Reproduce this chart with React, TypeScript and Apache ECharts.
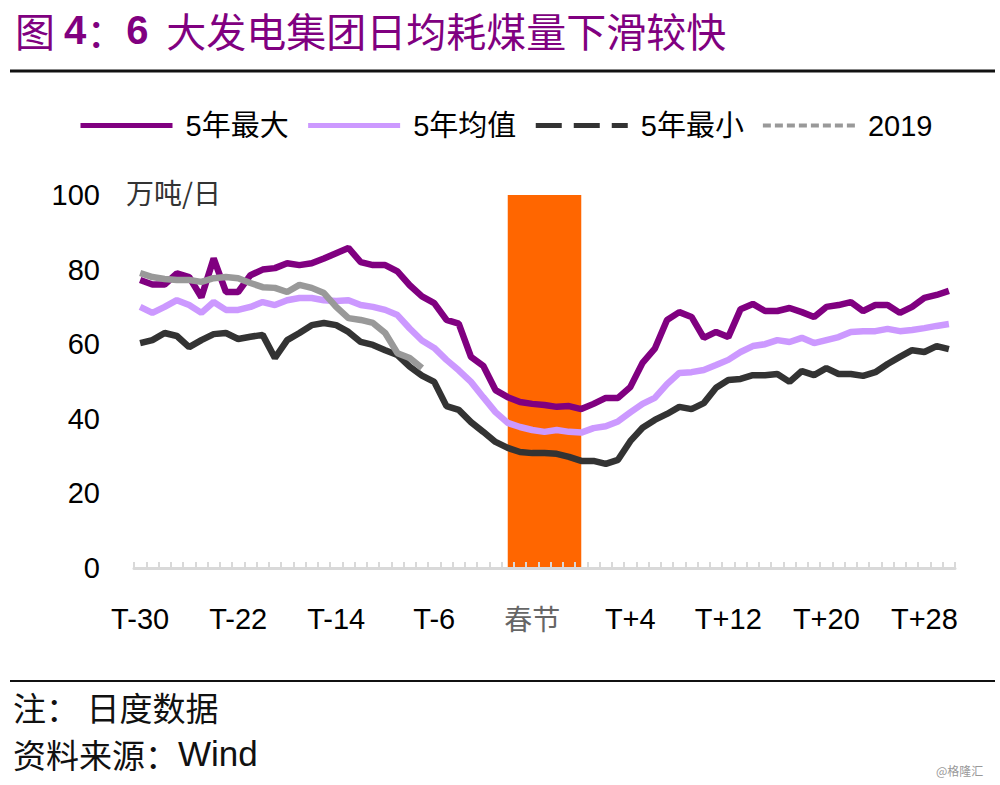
import React, { useEffect, useRef } from 'react';
import * as echarts from 'echarts';

const categories = [
  'T-30','T-29','T-28','T-27','T-26','T-25','T-24','T-23','T-22','T-21',
  'T-20','T-19','T-18','T-17','T-16','T-15','T-14','T-13','T-12','T-11',
  'T-10','T-9','T-8','T-7','T-6','T-5','T-4','T-3','T-2','T-1',
  '春节','春节','春节','春节','春节','春节','春节',
  'T+1','T+2','T+3','T+4','T+5','T+6','T+7','T+8','T+9','T+10',
  'T+11','T+12','T+13','T+14','T+15','T+16','T+17','T+18','T+19','T+20',
  'T+21','T+22','T+23','T+24','T+25','T+26','T+27','T+28','T+29','T+30',
];

const max5y = [
  77.2, 76, 76, 79, 78, 72.6, 83, 74, 74, 78.5,
  80, 80.4, 81.7, 81.2, 81.7, 83, 84.4, 85.8, 82, 81.2,
  81.2, 79.5, 75.8, 72.8, 71, 66.5, 65.5, 56.6, 54.2, 47.7,
  45.8, 44.5, 44, 43.7, 43.2, 43.4, 42.6,
  44, 45.6, 45.6, 48.5, 55, 58.8, 66.5, 68.6, 67.3, 61.7,
  63.3, 61.9, 69.4, 70.8, 68.9, 68.9, 69.7, 68.6, 67.3, 70,
  70.5, 71.3, 68.9, 70.5, 70.5, 68.4, 70, 72.4, 73.2, 74.3,
];

const mean5y = [
  70, 68.4, 70, 71.8, 70.5, 68.4, 71.3, 69.2, 69.2, 70,
  71.3, 70.5, 71.8, 72.4, 72.4, 71.8, 71.6, 71.8, 70.5, 70,
  69.2, 67.8, 64.2, 61, 59, 55.8, 53, 49.9, 45.8, 41.8,
  38.9, 37.8, 37, 36.5, 37, 36.5, 36.3,
  37.5, 38, 39.3, 41.7, 44, 45.6, 49.3, 52.3, 52.5, 53.1,
  54.4, 55.8, 57.9, 59.5, 60, 61.1, 60.6, 61.7, 60.3, 61.1,
  61.9, 63.3, 63.5, 63.5, 64.1, 63.5, 63.8, 64.3, 64.9, 65.4,
];

const min5y = [
  60.3, 61.1, 63, 62.2, 59.2, 61.1, 62.7, 63, 61.4, 62,
  62.5, 56.3, 61.1, 63, 65.1, 65.7, 65.1, 63.3, 60.6, 59.8,
  58.4, 57.1, 54, 51.6, 49.9, 43.4, 42.4, 39.1, 36.5, 33.8,
  32.2, 31.1, 30.8, 30.8, 30.6, 29.8, 28.7,
  28.7, 27.9, 29, 34, 37.6, 39.7, 41.3, 43.2, 42.6, 44.2,
  48.3, 50.4, 50.7, 51.7, 51.7, 52, 49.9, 52.8, 51.7, 53.6,
  52, 52, 51.5, 52.5, 54.7, 56.6, 58.4, 57.9, 59.5, 58.7,
];

const y2019 = [
  79.1, 78, 77.5, 77.2, 77.2, 76.7, 77.7, 78, 77.7, 76.4,
  75.3, 75.1, 74, 75.9, 75.1, 73.7, 70, 67, 66.5, 65.7,
  63, 57.6, 56.3, 53.6,
];

const holidayFirstIndex = 30;
const holidayLastIndex = 36;
const holidayTop = 100;

const seriesNames = ['5年最大', '5年均值', '5年最小', '2019'];

const LATIN = "'Liberation Sans', Arial, 'Noto Sans CJK SC', sans-serif";
const CJK = "'Noto Sans CJK SC', 'Liberation Sans', sans-serif";

export default function App() {
  const ref = useRef<HTMLDivElement>(null);

  useEffect(() => {
    if (!ref.current) return;
    const chart = echarts.init(ref.current, null, { renderer: 'svg' });

    const lineSeries = (name: string, data: (number | null)[], color: string) => ({
      name,
      type: 'line',
      data,
      symbol: 'none',
      showSymbol: false,
      z: 5,
      lineStyle: { color, width: 6.5 },
      itemStyle: { color },
    });

    chart.setOption({
      animation: false,
      backgroundColor: '#ffffff',
      textStyle: { fontFamily: LATIN },
      title: {
        text: '图 {b|4}：{b|6}  大发电集团日均耗煤量下滑较快',
        left: 10,
        top: 5,
        textStyle: {
          color: '#800080',
          fontSize: 40,
          fontWeight: 'normal',
          fontFamily: CJK,
          rich: {
            b: { color: '#800080', fontSize: 40, fontWeight: 'bold', fontFamily: LATIN },
          },
        },
      },
      legend: {
        left: 73,
        top: 106,
        itemWidth: 92,
        itemHeight: 14,
        itemGap: 17,
        textStyle: { fontSize: 29, color: '#000', fontFamily: LATIN, padding: [0, 0, 0, 8] },
        itemStyle: { opacity: 0 },
        lineStyle: { width: 5 },
        data: [
          { name: seriesNames[0] },
          { name: seriesNames[1] },
          { name: seriesNames[2], lineStyle: { type: [26, 12], width: 5 } },
          { name: seriesNames[3], lineStyle: { type: [8, 4], width: 4 } },
        ],
      },
      grid: { left: 134, right: 45, top: 195, bottom: 217, containLabel: false },
      xAxis: {
        type: 'category',
        data: categories,
        boundaryGap: true,
        z: 4,
        axisLine: { show: true, lineStyle: { color: '#d9d9d9', width: 3 } },
        axisTick: { show: true, inside: true, length: 6, interval: 0, lineStyle: { color: '#d9d9d9', width: 2 } },
        axisLabel: {
          interval: 7,
          margin: 36,
          fontSize: 29,
          color: '#000',
          fontFamily: LATIN,
          formatter: (v: string) => (v === '春节' ? '{c|春节}' : v),
          rich: { c: { fontSize: 28, color: '#666', fontFamily: CJK } },
        },
        splitLine: { show: false },
      },
      yAxis: {
        type: 'value',
        min: 0,
        max: 100,
        interval: 20,
        axisLine: { show: false },
        axisTick: { show: false },
        splitLine: { show: false },
        axisLabel: { fontSize: 29, color: '#000', margin: 34, fontFamily: LATIN },
      },
      series: [
        {
          name: '春节区间',
          type: 'line',
          data: [],
          z: 1,
          symbol: 'none',
          markArea: {
            silent: true,
            itemStyle: { color: '#FF6600', opacity: 1 },
            data: [[
              { xAxis: holidayFirstIndex, yAxis: 0 },
              { xAxis: holidayLastIndex, yAxis: holidayTop },
            ]],
          },
        },
        lineSeries(seriesNames[0], max5y, '#800080'),
        lineSeries(seriesNames[1], mean5y, '#CC99FF'),
        lineSeries(seriesNames[2], min5y, '#333333'),
        lineSeries(seriesNames[3], y2019, '#999999'),
      ],
      graphic: [
        { type: 'line', shape: { x1: 10, y1: 71, x2: 995, y2: 71 }, style: { stroke: '#111', lineWidth: 3 } },
        { type: 'line', shape: { x1: 10, y1: 681, x2: 995, y2: 681 }, style: { stroke: '#111', lineWidth: 2 } },
        {
          type: 'text', left: 126, top: 178,
          style: { text: '万吨/日', fontSize: 28, fill: '#333', fontFamily: CJK },
        },
        {
          type: 'text', left: 13, top: 690,
          style: { text: '注： 日度数据', fontSize: 33, fill: '#111', fontFamily: CJK },
        },
        {
          type: 'text', left: 13, top: 736,
          style: {
            text: '资料来源：{w|Wind}', fontSize: 33, fill: '#111', fontFamily: CJK,
            rich: { w: { fontSize: 35, fill: '#111', fontFamily: LATIN } },
          },
        },
        {
          type: 'text', left: 936, top: 764,
          style: { text: '@格隆汇', fontSize: 12, fill: '#999', fontFamily: CJK },
        },
      ],
    });

    return () => chart.dispose();
  }, []);

  return (
    <div
      ref={ref}
      style={{ position: 'fixed', left: 0, top: 0, width: 1000, height: 785, background: '#fff' }}
    />
  );
}
